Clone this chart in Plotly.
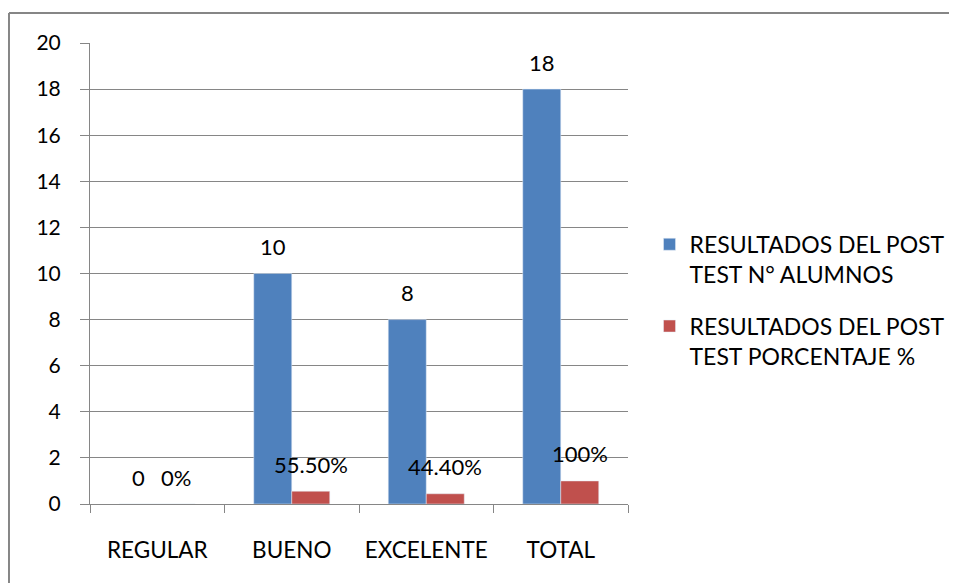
import plotly.graph_objects as go

categories = ["REGULAR", "BUENO", "EXCELENTE", "TOTAL"]
alumnos = [0, 10, 8, 18]
alumnos_labels = ["0", "10", "8", "18"]
porcentaje = [0, 0.555, 0.444, 1.0]
porcentaje_labels = ["0%", "55.50%", "44.40%", "100%"]
series_names = ["RESULTADOS DEL POST<br>TEST N° ALUMNOS", "RESULTADOS DEL POST<br>TEST PORCENTAJE %"]
y_ticks = list(range(0, 21, 2))

BLUE = "#4F81BD"
RED = "#C0504D"
GRAY = "#868686"
FONT = "Lato"

fig = go.Figure()
fig.add_trace(go.Bar(x=categories, y=alumnos, name=series_names[0], marker_color=BLUE,
                     legendgroup="g1"))
fig.add_trace(go.Bar(x=categories, y=porcentaje, name=series_names[1], marker_color=RED,
                     legendgroup="g2"))

annotations = []
for cat, v, t in zip(categories, alumnos, alumnos_labels):
    annotations.append(dict(x=cat, y=v, text=t, showarrow=False, xshift=-19, yshift=27,
                            yanchor="middle", font=dict(family=FONT, size=22, color="#000")))
for cat, v, t in zip(categories, porcentaje, porcentaje_labels):
    annotations.append(dict(x=cat, y=v, text=t, showarrow=False, xshift=19, yshift=27,
                            yanchor="middle", font=dict(family=FONT, size=22, color="#000")))

fig.update_layout(
    width=957, height=583,
    margin=dict(l=82, r=337, t=35, b=87),
    paper_bgcolor="white", plot_bgcolor="white",
    barmode="group", bargap=0.435, bargroupgap=0,
    font=dict(family=FONT, size=22, color="#000"),
    showlegend=True,
    legend=dict(x=1.04, y=0.61, xanchor="left", yanchor="top", valign="top",
                font=dict(family=FONT, size=23, color="#000"),
                traceorder="grouped", tracegroupgap=19, itemwidth=30,
                bgcolor="rgba(0,0,0,0)"),
    annotations=annotations,
    shapes=[
        dict(type="line", xref="paper", yref="paper", x0=-0.1506, x1=-0.1506, y0=1.065, y1=-0.3,
             line=dict(color=GRAY, width=2)),
        dict(type="line", xref="paper", yref="paper", x0=-0.1506, x1=1.7, y0=1.065, y1=1.065,
             line=dict(color=GRAY, width=2)),
    ],
)
fig.update_yaxes(range=[0, 20], tickvals=y_ticks, showgrid=True, gridcolor=GRAY, gridwidth=1,
                 showline=True, linecolor=GRAY, linewidth=1, ticks="outside", ticklen=9,
                 tickcolor=GRAY, ticklabelstandoff=15, zeroline=False,
                 tickfont=dict(family=FONT, size=21, color="#000"))
fig.update_xaxes(showline=True, linecolor=GRAY, linewidth=1, ticks="outside", ticklen=8,
                 tickcolor=GRAY, tickson="boundaries", ticklabelstandoff=26,
                 tickfont=dict(family=FONT, size=22.5, color="#000"))

fig.write_html("out.html")
